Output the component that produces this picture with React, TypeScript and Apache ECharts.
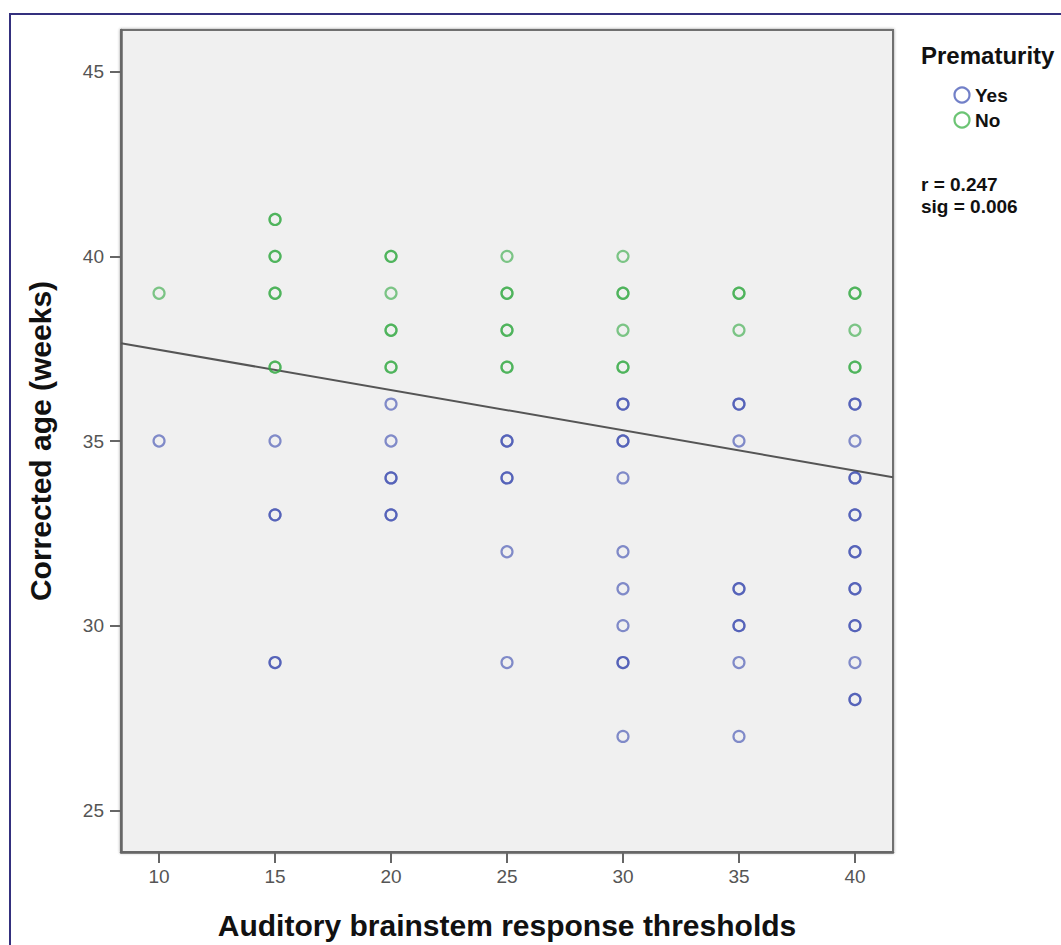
import React, { useEffect, useRef } from "react";
import * as echarts from "echarts";

// Auditory brainstem response thresholds (x) vs corrected age in weeks (y)
// repeated pairs = overlapping participants (drawn darker)
const prematureYes: number[][] = [
  [10, 35],
  [15, 35], [15, 33], [15, 33], [15, 29], [15, 29],
  [20, 36], [20, 35], [20, 34], [20, 34], [20, 33], [20, 33],
  [25, 35], [25, 35], [25, 34], [25, 34], [25, 32], [25, 29],
  [30, 36], [30, 36], [30, 35], [30, 35], [30, 34], [30, 32], [30, 31], [30, 30], [30, 29], [30, 29], [30, 27],
  [35, 36], [35, 36], [35, 35], [35, 31], [35, 31], [35, 30], [35, 30], [35, 29], [35, 27],
  [40, 36], [40, 36], [40, 35], [40, 34], [40, 34], [40, 33], [40, 33], [40, 32], [40, 32],
  [40, 31], [40, 31], [40, 30], [40, 30], [40, 29], [40, 28], [40, 28],
];
const prematureNo: number[][] = [
  [10, 39],
  [15, 41], [15, 41], [15, 40], [15, 40], [15, 39], [15, 39], [15, 37], [15, 37],
  [20, 40], [20, 40], [20, 39], [20, 38], [20, 38], [20, 37], [20, 37],
  [25, 40], [25, 39], [25, 39], [25, 38], [25, 38], [25, 37], [25, 37],
  [30, 40], [30, 39], [30, 39], [30, 38], [30, 37], [30, 37],
  [35, 39], [35, 39], [35, 38],
  [40, 39], [40, 39], [40, 38], [40, 37], [40, 37],
];
const xTicks = [10, 15, 20, 25, 30, 35, 40];
const yTicks = [25, 30, 35, 40, 45];
const xRange = [8.36, 41.64];
const yRange = [23.87, 46.13];
// fit line: y = intercept + slope * x
const fitIntercept = 38.56;
const fitSlope = -0.109;
const legendLabels = ["Yes", "No"];
const statsLines = ["r = 0.247", "sig = 0.006"];

const FONT = "'Liberation Sans', Arial, sans-serif";

export default function App() {
  const ref = useRef<HTMLDivElement>(null);
  useEffect(() => {
    if (!ref.current) return;
    const chart = echarts.init(ref.current, null, { renderer: "svg" });
    const fitLine = xRange.map((x) => [x, fitIntercept + fitSlope * x]);
    const markerStyle = (c: string) => ({
      color: "rgba(0,0,0,0)",
      borderColor: c,
      borderWidth: 2.2,
      opacity: 0.62,
    });
    chart.setOption({
      animation: false,
      backgroundColor: "#ffffff",
      textStyle: { fontFamily: FONT },
      grid: {
        left: 121,
        top: 30,
        right: 168,
        bottom: 88,
        show: true,
        backgroundColor: "#f0f0f0",
        borderColor: "#707070",
        borderWidth: 2,
        shadowColor: "rgba(0,0,0,0.4)",
        shadowBlur: 3,
      },
      xAxis: {
        type: "value",
        min: xRange[0],
        max: xRange[1],
        splitLine: { show: false },
        axisLine: { show: true, lineStyle: { color: "#666666", width: 2.5 } },
        axisTick: {
          show: true,
          length: 11,
          customValues: xTicks,
          lineStyle: { color: "#666666", width: 2 },
        },
        axisLabel: {
          customValues: xTicks,
          color: "#555555",
          fontSize: 19,
          margin: 15,
          fontFamily: FONT,
        },
        name: "Auditory brainstem response thresholds",
        nameLocation: "middle",
        nameGap: 58,
        nameTextStyle: { color: "#111111", fontSize: 30, fontWeight: "bold", fontFamily: FONT },
      },
      yAxis: {
        type: "value",
        min: yRange[0],
        max: yRange[1],
        splitLine: { show: false },
        axisLine: { show: true, lineStyle: { color: "#666666", width: 2.5 } },
        axisTick: {
          show: true,
          length: 11,
          customValues: yTicks,
          lineStyle: { color: "#666666", width: 2 },
        },
        axisLabel: {
          customValues: yTicks,
          color: "#555555",
          fontSize: 19,
          margin: 17,
          fontFamily: FONT,
        },
        name: "Corrected age (weeks)",
        nameLocation: "middle",
        nameGap: 66,
        nameTextStyle: { color: "#111111", fontSize: 30, fontWeight: "bold", fontFamily: FONT },
      },
      series: [
        {
          name: "Fit",
          type: "line",
          data: fitLine,
          symbol: "none",
          lineStyle: { color: "#555555", width: 2 },
          z: 3,
        },
        {
          name: "Yes",
          type: "scatter",
          data: prematureYes,
          symbol: "circle",
          symbolSize: 11,
          itemStyle: markerStyle("#3c4cb0"),
          z: 4,
        },
        {
          name: "No",
          type: "scatter",
          data: prematureNo,
          symbol: "circle",
          symbolSize: 11,
          itemStyle: markerStyle("#34aa44"),
          z: 4,
        },
      ],
      graphic: [
        {
          type: "rect",
          shape: { x: 10, y: 14, width: 1200, height: 1100 },
          style: { fill: "none", stroke: "#34307e", lineWidth: 2 },
          z: 100,
        },
        {
          type: "text",
          x: 921,
          y: 55,
          style: {
            text: "Prematurity",
            fill: "#111111",
            font: `bold 24px ${FONT}`,
            textVerticalAlign: "middle",
          },
        },
        {
          type: "circle",
          shape: { cx: 962, cy: 95, r: 7.5 },
          style: { fill: "none", stroke: "#7280c8", lineWidth: 2.2 },
        },
        {
          type: "circle",
          shape: { cx: 962, cy: 120, r: 7.5 },
          style: { fill: "none", stroke: "#6cc474", lineWidth: 2.2 },
        },
        ...legendLabels.map((t, i) => ({
          type: "text",
          x: 975,
          y: 95 + i * 25,
          style: {
            text: t,
            fill: "#111111",
            font: `bold 19px ${FONT}`,
            textVerticalAlign: "middle",
          },
        })),
        ...statsLines.map((t, i) => ({
          type: "text",
          x: 921,
          y: 184 + i * 22,
          style: {
            text: t,
            fill: "#111111",
            font: `bold 19px ${FONT}`,
            textVerticalAlign: "middle",
          },
        })),
      ],
    });
    return () => chart.dispose();
  }, []);
  return (
    <div
      ref={ref}
      style={{ position: "absolute", left: 0, top: 0, width: 1061, height: 945 }}
    />
  );
}
